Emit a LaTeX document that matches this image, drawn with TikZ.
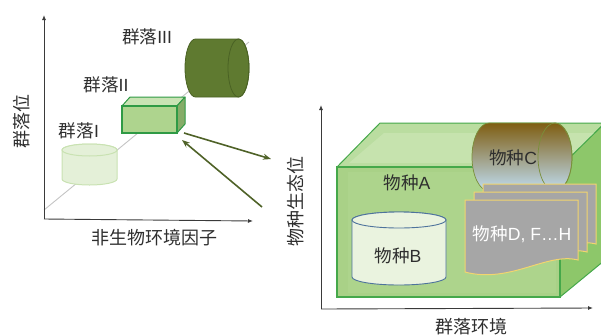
\documentclass[tikz,border=0pt]{standalone}
\usepackage{fontspec}
\setmainfont{Liberation Sans}
\newfontfamily\cjk{Noto Sans CJK SC}
\usetikzlibrary{arrows.meta}

\definecolor{axisgray}{HTML}{3A3A3A}
\definecolor{textgray}{HTML}{2E2E2E}
\definecolor{diaggray}{HTML}{C4C4C4}
\definecolor{cylIfill}{HTML}{E4F0D8}
\definecolor{cylIline}{HTML}{C9E2B2}
\definecolor{boxfront}{HTML}{AED48E}
\definecolor{boxtop}{HTML}{C9E3B4}
\definecolor{boxside}{HTML}{86AC68}
\definecolor{boxline}{HTML}{2F9A45}
\definecolor{cylIIIfill}{HTML}{5F7A30}
\definecolor{cylIIIline}{HTML}{4A6224}
\definecolor{olivearrow}{HTML}{4F6228}
\definecolor{bigfront}{HTML}{A9D187}
\definecolor{bigfrontin}{HTML}{ADD48C}
\definecolor{bigtop}{HTML}{BADDA0}
\definecolor{bigtopin}{HTML}{C6E3AE}
\definecolor{bigside}{HTML}{8DC76A}
\definecolor{bigline}{HTML}{45A84A}
\definecolor{cylBfill}{HTML}{EAF3DF}
\definecolor{cylBline}{HTML}{4E739C}
\definecolor{cylCtop}{HTML}{7F5E12}
\definecolor{cylCbot}{HTML}{BFDDF2}
\definecolor{cylCline}{HTML}{7A8F3A}
\definecolor{sheetgray}{HTML}{A6A6A6}
\definecolor{sheetline}{HTML}{F2D56E}

\begin{document}
\begin{tikzpicture}[x=1pt,y=-1pt,
  axis/.style={draw=axisgray, line width=0.9pt, -{Latex[length=5pt,width=4pt]}},
  lbl/.style={font=\fontsize{17.6}{20}\selectfont, text=textgray, inner sep=0pt},
  axlbl/.style={font=\fontsize{18}{21}\selectfont, text=textgray, inner sep=0pt},
  linkarrow/.style={draw=olivearrow, line width=1.6pt, -{Stealth[length=8pt,width=6pt]}},
  sheet/.pic={
    \path[fill=sheetgray, draw=sheetline, line width=1pt]
      (0,0) -- (113,0) -- (113,60)
      .. controls (82,52) and (45,84) .. (0,72) -- cycle;
  }]
\useasboundingbox (0,0) rectangle (601,335);

% ---------- left chart: community position ----------
\coordinate (lo) at (44,219);
\coordinate (ly) at (44,15);
\coordinate (lx) at (253,221);
\coordinate (ds) at (44,210);
\coordinate (de) at (249,42);
\draw[diaggray, line width=0.9pt] (ds) -- (de);
\draw[axis] (lo) -- (ly);
\draw[axis] (lo) -- (lx);

% community I: pale vertical cylinder
\path[fill=cylIfill, draw=cylIline, line width=1pt]
  (62,150) -- (62,179) arc[start angle=180, end angle=0, x radius=27.5, y radius=6]
  -- (117,150) arc[start angle=0, end angle=-180, x radius=27.5, y radius=6] -- cycle;
\draw[cylIline, line width=1pt, fill=cylIfill] (89.5,150) ellipse[x radius=27.5, y radius=6];

% community II: green box
\path[fill=boxtop, draw=boxline, line width=1pt, line join=round]
  (122,106) -- (130,97) -- (185,97) -- (177,106) -- cycle;
\path[fill=boxside, draw=boxline, line width=1pt, line join=round]
  (177,106) -- (185,97) -- (185,124) -- (177,133) -- cycle;
\path[fill=boxfront, draw=boxline, line width=1.2pt] (122,106) rectangle (177,133);

% community III: dark horizontal cylinder
\path[fill=cylIIIfill, draw=cylIIIline, line width=0.8pt]
  (195.5,39) -- (238.5,39) arc[start angle=-90, end angle=90, x radius=10.5, y radius=29]
  -- (195.5,97) arc[start angle=90, end angle=270, x radius=10.5, y radius=29] -- cycle;
\draw[cylIIIline, line width=0.8pt] (238.5,68) ellipse[x radius=10.5, y radius=29];

\node[lbl] (c3) at (147,37) {{\cjk 群落}III};
\node[lbl] (c2) at (106,85) {{\cjk 群落}II};
\node[lbl] (c1) at (79,131) {{\cjk 群落}I};
\node[axlbl, rotate=90] (ly-lbl) at (22,121) {\cjk 群落位};
\node[axlbl] (lx-lbl) at (154,238) {\cjk 非生物环境因子};

% links between the two charts
\coordinate (a1s) at (184,133);
\coordinate (a1e) at (271,159);
\coordinate (a2s) at (262,207);
\coordinate (a2e) at (182,140);
\draw[linkarrow] (a1s) -- (a1e);
\draw[linkarrow] (a2s) -- (a2e);

% ---------- right chart: species niche ----------
\coordinate (ro) at (321,309);
\coordinate (ry) at (321,105);
\coordinate (rx) at (593,308);
\draw[axis] (ro) -- (ry);
\draw[axis] (ro) -- (rx);

% species A: community box with a soft bevel
\path[fill=bigtop, draw=bigline, line width=1pt, line join=round]
  (337,167) -- (380,123) -- (605,123) -- (560,167) -- cycle;
\fill[bigtopin] (349,163) -- (384,133) -- (600,133) -- (565,163) -- cycle;
\path[fill=bigside, draw=bigline, line width=1pt, line join=round]
  (560,167) -- (605,123) -- (605,260) -- (560,297) -- cycle;
\path[fill=bigfront] (337,167) rectangle (560,297);
\fill[bigfrontin] (348,172) rectangle (556,293);
\draw[bigline, line width=1.2pt] (337,167) rectangle (560,297);

% species B: vertical cylinder
\path[fill=cylBfill, draw=cylBline, line width=0.9pt]
  (352,220) -- (352,277) arc[start angle=180, end angle=0, x radius=47, y radius=8]
  -- (446,220) arc[start angle=0, end angle=-180, x radius=47, y radius=8] -- cycle;
\draw[cylBline, line width=0.9pt, fill=cylBfill] (399,220) ellipse[x radius=47, y radius=8];

% species C: shaded horizontal cylinder
\path[top color=cylCtop, bottom color=cylCbot, draw=cylCline, line width=0.7pt]
  (489,123) -- (555,123) arc[start angle=-90, end angle=90, x radius=17, y radius=34]
  -- (489,191) arc[start angle=90, end angle=270, x radius=17, y radius=34] -- cycle;
\draw[cylCline, line width=0.7pt] (555,157) ellipse[x radius=17, y radius=34];

% species D, F ... H: stacked sheets
\pic at (483,184) {sheet};
\pic at (474,192) {sheet};
\pic at (465,200) {sheet};

\node[lbl] (spA) at (407,183) {{\cjk 物种}A};
\node[lbl] (spB) at (398,256) {{\cjk 物种}B};
\node[lbl] (spC) at (513,158) {{\cjk 物种}C};
\node[lbl, text=white] (spD) at (522,234) {{\cjk 物种}D, F…H};
\node[axlbl, rotate=90] (ry-lbl) at (296,201) {\cjk 物种生态位};
\node[axlbl] (rx-lbl) at (471,327) {\cjk 群落环境};
\end{tikzpicture}
\end{document}
